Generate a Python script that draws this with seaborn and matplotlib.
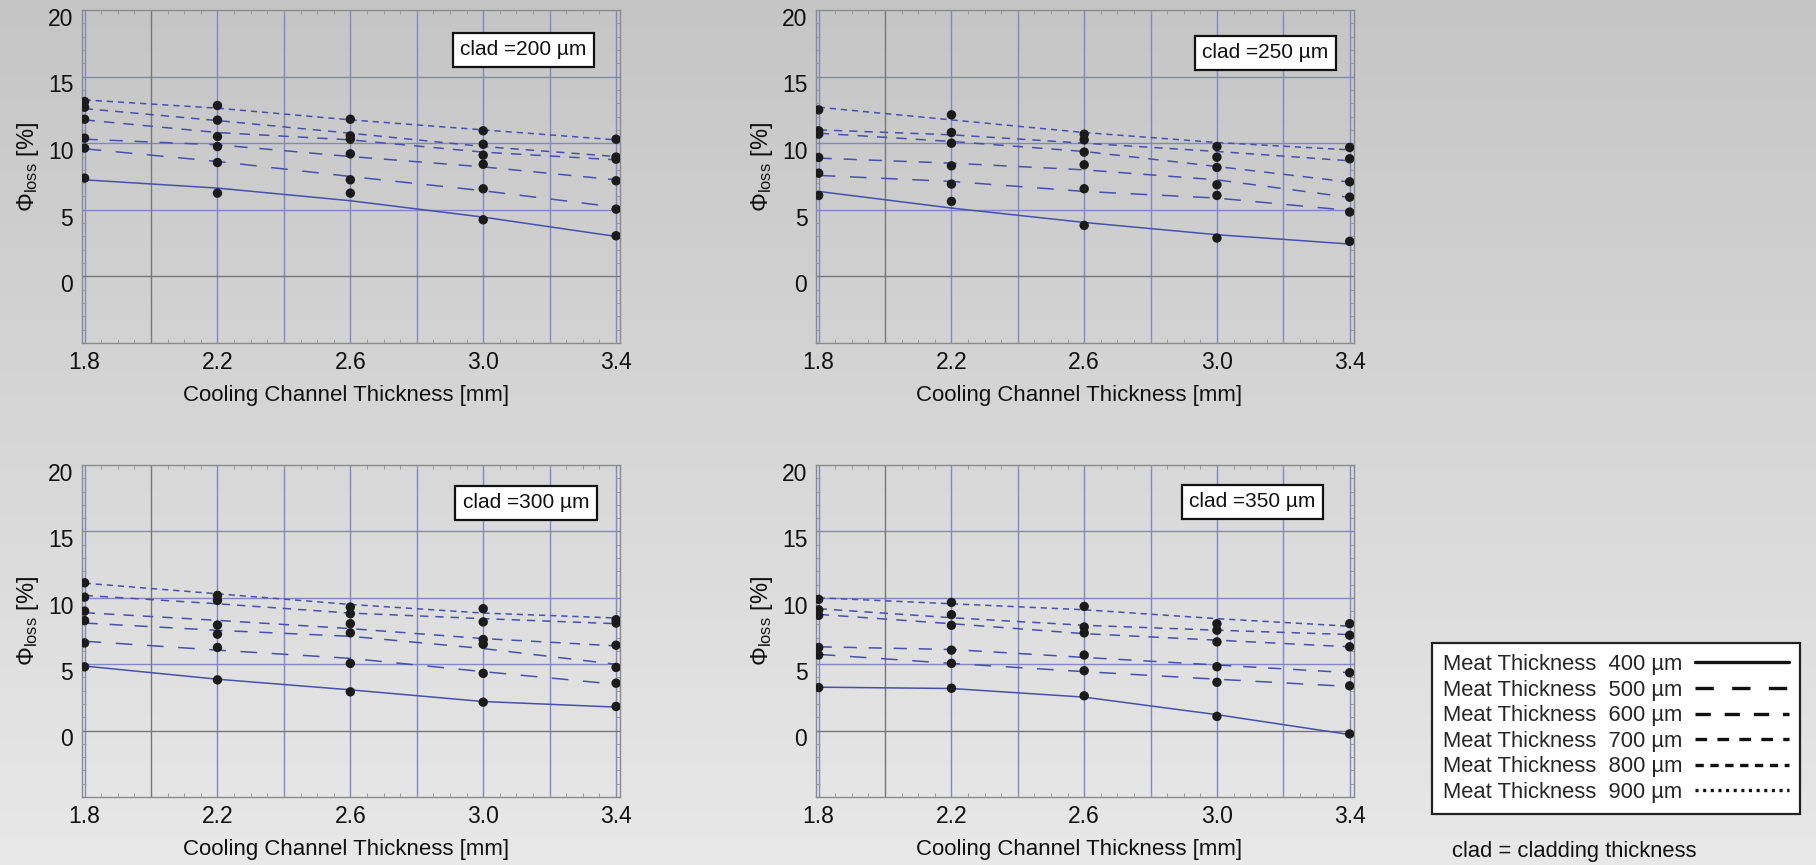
import numpy as np
import pandas as pd
import matplotlib
matplotlib.use("Agg")
import matplotlib.pyplot as plt
import matplotlib.transforms as mtransforms
from matplotlib.lines import Line2D
from matplotlib.ticker import MultipleLocator
from matplotlib.colors import LinearSegmentedColormap
import seaborn as sns

# ---------------- data ----------------
channel = [1.8, 2.2, 2.6, 3.0, 3.4]          # cooling channel thickness [mm]
meat = [400, 500, 600, 700, 800, 900]        # meat thickness [um]
clads = [200, 250, 300, 350]                 # cladding thickness [um]

# measured points, rows = meat 400..900
pts_200 = [[7.38, 6.25, 6.25, 4.25, 3.05],
           [9.63, 8.55, 7.25, 6.58, 5.05],
           [10.38, 9.75, 9.2, 8.42, 7.18],
           [11.8, 10.5, 10.3, 9.1, 8.8],
           [12.7, 11.73, 10.55, 9.92, 8.96],
           [13.13, 12.83, 11.8, 10.93, 10.3]]
pts_250 = [[6.08, 5.63, 3.83, 2.88, 2.63],
           [7.75, 6.93, 6.58, 6.08, 4.83],
           [8.93, 8.3, 8.38, 6.88, 5.95],
           [10.68, 10.0, 9.33, 8.18, 7.1],
           [10.93, 10.8, 10.25, 8.95, 8.83],
           [12.5, 12.13, 10.68, 9.75, 9.68]]
pts_300 = [[4.8, 3.82, 2.92, 2.14, 1.82],
           [6.6, 6.26, 5.06, 4.31, 3.57],
           [8.28, 7.26, 7.36, 6.5, 4.76],
           [9.0, 7.95, 8.05, 6.86, 6.43],
           [10.05, 9.8, 8.8, 8.18, 8.1],
           [11.13, 10.18, 9.3, 9.18, 8.35]]
pts_350 = [[3.24, 3.19, 2.62, 1.07, -0.25],
           [5.69, 5.06, 4.51, 3.64, 3.37],
           [6.26, 6.06, 5.69, 4.81, 4.36],
           [8.68, 7.93, 7.36, 6.68, 6.31],
           [9.1, 8.73, 7.8, 7.56, 7.18],
           [9.88, 9.65, 9.35, 8.05, 8.05]]

# fitted curves, rows = meat 400..900
fit_200 = [[7.25, 6.63, 5.68, 4.45, 3.0],
           [9.58, 8.63, 7.5, 6.43, 5.2],
           [10.3, 9.88, 9.0, 8.22, 7.25],
           [11.75, 10.8, 10.25, 9.33, 8.75],
           [12.6, 11.7, 10.75, 9.75, 9.0],
           [13.25, 12.63, 11.75, 11.0, 10.25]]
fit_250 = [[6.38, 5.13, 4.05, 3.13, 2.43],
           [7.58, 7.13, 6.38, 5.88, 4.95],
           [8.88, 8.5, 8.0, 7.25, 5.93],
           [10.75, 10.13, 9.38, 8.25, 7.08],
           [11.0, 10.63, 10.0, 9.38, 8.68],
           [12.7, 11.75, 10.8, 10.05, 9.5]]
fit_300 = [[4.86, 3.87, 3.07, 2.19, 1.77],
           [6.73, 6.06, 5.44, 4.44, 3.49],
           [8.1, 7.55, 7.1, 6.18, 4.99],
           [8.88, 8.3, 7.68, 6.93, 6.38],
           [10.18, 9.55, 8.85, 8.43, 8.05],
           [11.1, 10.3, 9.5, 8.85, 8.48]]
fit_350 = [[3.27, 3.17, 2.52, 1.2, -0.3],
           [5.74, 5.06, 4.44, 3.87, 3.32],
           [6.31, 6.11, 5.51, 4.94, 4.36],
           [8.75, 8.05, 7.3, 6.81, 6.31],
           [9.18, 8.5, 7.93, 7.56, 7.23],
           [10.0, 9.55, 9.1, 8.43, 7.86]]

points = [pts_200, pts_250, pts_300, pts_350]
fits = [fit_200, fit_250, fit_300, fit_350]

xtick_vals = [1.8, 2.2, 2.6, 3.0, 3.4]
xtick_labels = ["1.8", "2.2", "2.6", "3.0", "3.4"]
ytick_vals = [0, 5, 10, 15, 20]
ytick_labels = ["0", "5", "10", "15", "20"]

# ---------------- style ----------------
sns.set_theme(style="white")
plt.rcParams["font.family"] = ["Liberation Sans", "DejaVu Sans"]
plt.rcParams["mathtext.fontset"] = "custom"
plt.rcParams["mathtext.rm"] = "Liberation Sans"
plt.rcParams["mathtext.it"] = "Liberation Sans:italic"
plt.rcParams["mathtext.bf"] = "Liberation Sans:bold"
plt.rcParams["lines.scale_dashes"] = False

line_color = "#4650ad"
grid_blue = "#8286c4"
grid_gray = "#777777"
frame_gray = "#8a8a8a"
dot_color = "#1b1b1b"

plot_dashes = {400: "", 500: (12, 10.5), 600: (9.5, 8.5), 700: (7.5, 6.5),
               800: (6, 5), 900: (4.5, 3.5)}
legend_dashes = {400: "", 500: (13.2, 13.2), 600: (11, 10), 700: (8.4, 7.4),
                 800: (6, 4.7), 900: (2.2, 3.3)}

W, H = 1816, 865
fig = plt.figure(figsize=(W / 100, H / 100), dpi=100)

# gradient background
bg = fig.add_axes([0, 0, 1, 1], zorder=-10)
grad = np.linspace(0, 1, 256).reshape(-1, 1)
cmap = LinearSegmentedColormap.from_list("bg", ["#c5c5c5", "#e8e8e8"])
bg.imshow(grad, aspect="auto", cmap=cmap, extent=[0, 1, 0, 1], origin="upper")
bg.set_axis_off()

panel_rects = [(81.6, 10, 538.8, 333), (815.7, 10, 538.3, 333),
               (81.6, 465, 538.8, 332), (815.7, 465, 538.3, 332)]
box_pos = [(0.82, 0.88), (0.835, 0.871), (0.825, 0.887), (0.811, 0.89)]

label_offset = mtransforms.ScaledTranslation(0, -6.7 / 100, fig.dpi_scale_trans)

for i, clad in enumerate(clads):
    l, t, w, h = panel_rects[i]
    ax = fig.add_axes([l / W, 1 - (t + h) / H, w / W, h / H])
    ax.set_facecolor("none")

    df_fit = pd.DataFrame([(channel[j], fits[i][k][j], meat[k])
                           for k in range(len(meat)) for j in range(len(channel))],
                          columns=["channel", "phi", "meat"])
    df_pts = pd.DataFrame([(channel[j], points[i][k][j], meat[k])
                           for k in range(len(meat)) for j in range(len(channel))],
                          columns=["channel", "phi", "meat"])

    # grid lines (Mathematica style)
    for gx in [1.8, 2.2, 2.4, 2.6, 2.8, 3.0, 3.2, 3.4]:
        ax.axvline(gx, color=grid_blue, lw=1.0, zorder=0.5)
    ax.axvline(2.0, color=grid_gray, lw=1.0, zorder=0.6)
    for gy in [5, 10, 15]:
        ax.axhline(gy, color=grid_blue, lw=1.0, zorder=0.5)
    ax.axhline(0, color=grid_gray, lw=1.0, zorder=0.6)

    sns.lineplot(data=df_fit, x="channel", y="phi", style="meat", dashes=plot_dashes,
                 color=line_color, lw=1.1, estimator=None, legend=False, ax=ax, zorder=2)
    sns.scatterplot(data=df_pts, x="channel", y="phi", color=dot_color, s=46,
                    edgecolor="none", legend=False, ax=ax, zorder=5)

    ax.set_xlim(1.791, 3.413)
    ax.set_ylim(-5, 20)
    ax.set_xticks(xtick_vals)
    ax.set_xticklabels(xtick_labels)
    ax.set_yticks(ytick_vals)
    ax.set_yticklabels(ytick_labels)
    ax.xaxis.set_minor_locator(MultipleLocator(0.05))
    ax.yaxis.set_minor_locator(MultipleLocator(1))
    ax.tick_params(axis="both", which="major", length=0, labelsize=16.5,
                   labelcolor="#111111", pad=6)
    ax.tick_params(axis="both", which="minor", direction="in", length=3,
                   width=0.7, color="#9a9a9a", top=True, right=True,
                   bottom=True, left=True)
    for tk in ax.yaxis.get_major_ticks():
        tk.label1.set_transform(tk.label1.get_transform() + label_offset)

    for sp in ax.spines.values():
        sp.set_color(frame_gray)
        sp.set_linewidth(1.0)
        sp.set_visible(True)

    ax.set_xlabel("Cooling Channel Thickness [mm]", fontsize=16, color="#111111")
    ax.set_ylabel("Φ$_{\\mathregular{loss}}$ [%]", fontsize=17, color="#111111")
    ax.xaxis.set_label_coords(0.49, -0.125)
    ax.yaxis.set_label_coords(-0.075, 0.53)

    ax.text(box_pos[i][0], box_pos[i][1], f"clad ={clad} µm", transform=ax.transAxes,
            ha="center", va="center", fontsize=15, color="#111111", zorder=10,
            bbox=dict(boxstyle="square,pad=0.36", fc="white", ec="#111111", lw=1.6))

# legend
handles = [Line2D([], [], color="#111111", lw=2.4,
                  linestyle="-" if legend_dashes[m] == "" else (0, legend_dashes[m]),
                  dash_capstyle="butt")
           for m in meat]
labels = [f"Meat Thickness  {m} µm" for m in meat]
leg = fig.legend(handles, labels, loc="upper left",
                 bbox_to_anchor=(1432 / W, 1 - 643 / H), borderaxespad=0,
                 frameon=True, fancybox=False, edgecolor="#222222", facecolor="white",
                 framealpha=1, fontsize=15.8, handlelength=4.3, handletextpad=0.55,
                 borderpad=0.5, labelspacing=0.21, markerfirst=False)
leg.get_frame().set_linewidth(1.6)

fig.text(1452 / W, 1 - 852 / H, "clad = cladding thickness", fontsize=15.8,
         ha="left", va="center", color="#111111")

fig.savefig("out.png", dpi=100)
